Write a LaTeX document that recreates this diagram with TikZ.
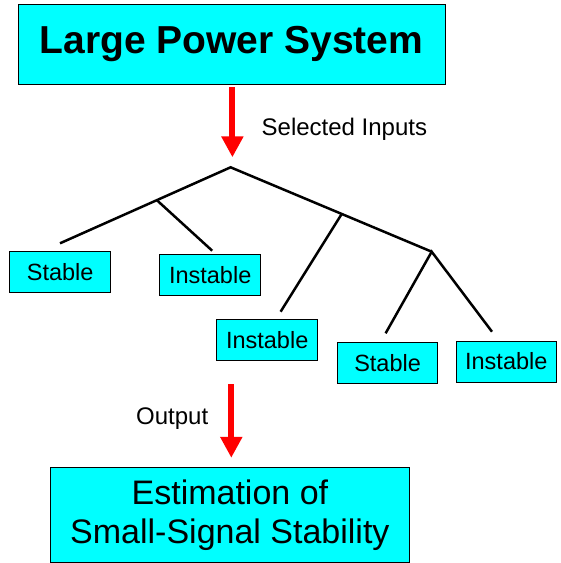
\documentclass[tikz,border=0pt]{standalone}
\usepackage{fontspec}
\setmainfont{Liberation Sans}
\usetikzlibrary{arrows.meta}
\definecolor{boxcyan}{RGB}{0,255,255}
\definecolor{arrred}{RGB}{255,0,0}
\begin{document}
\begin{tikzpicture}[x=1pt,y=-1pt,
  box/.style={draw=black, line width=1pt, fill=boxcyan, inner sep=0pt},
  leaf/.style={box, minimum width=100.5pt, minimum height=41pt, font=\fontsize{23.5}{28}\selectfont},
  branch/.style={line width=2.5pt, black},
  redarrow/.style={draw=arrred, line width=6pt, -{Triangle[width=21pt,length=21pt]}},
  lbl/.style={font=\fontsize{24}{28}\selectfont, inner sep=0pt}]
\useasboundingbox (0,0) rectangle (561,563);
% top and bottom boxes
\node[box, minimum width=427pt, minimum height=80pt, font=\fontsize{39}{44}\selectfont\bfseries] (top) at (231.5,44) {Large Power System};
\node[box, minimum width=359pt, minimum height=94.6pt, align=center, font=\fontsize{34}{39}\selectfont] (bot) at (229.9,515) {Estimation of\\Small-Signal Stability};
% labels
\node[lbl, anchor=base west] (sel) at (261.5,135) {Selected Inputs};
\node[lbl, anchor=base west] (out) at (136,424) {Output};
% leaves
\node[leaf] (s1) at (60.2,271.9) {Stable};
\node[leaf] (i1) at (210.2,274.8) {Instable};
\node[leaf] (i2) at (267.2,339.7) {Instable};
\node[leaf] (s2) at (387.6,363.2) {Stable};
\node[leaf] (i3) at (506.3,361.5) {Instable};
% arrows
\coordinate (a1) at (232.4,157.3);
\draw[redarrow, shorten <=2.7pt] (top.south -| a1) -- (a1);
\coordinate (a2) at (231.3,384);
\draw[redarrow, shorten >=9.4pt] (a2) -- (a2 |- bot.north);
% tree
\coordinate (r) at (230.6,167.3);
\coordinate (l) at (60,243.3);
\coordinate (lb) at (157.2,200.5);
\coordinate (lbe) at (212.2,250.7);
\coordinate (rr) at (431.7,251.7);
\coordinate (rb) at (341.7,214);
\coordinate (rbe) at (280.6,311.7);
\coordinate (rre1) at (385.6,333.3);
\coordinate (rre2) at (492,331.7);
\draw[branch] (l) -- (r) -- (rr);
\draw[branch] (lb) -- (lbe);
\draw[branch] (rb) -- (rbe);
\draw[branch] (rre1) -- (rr) -- (rre2);
\end{tikzpicture}
\end{document}
